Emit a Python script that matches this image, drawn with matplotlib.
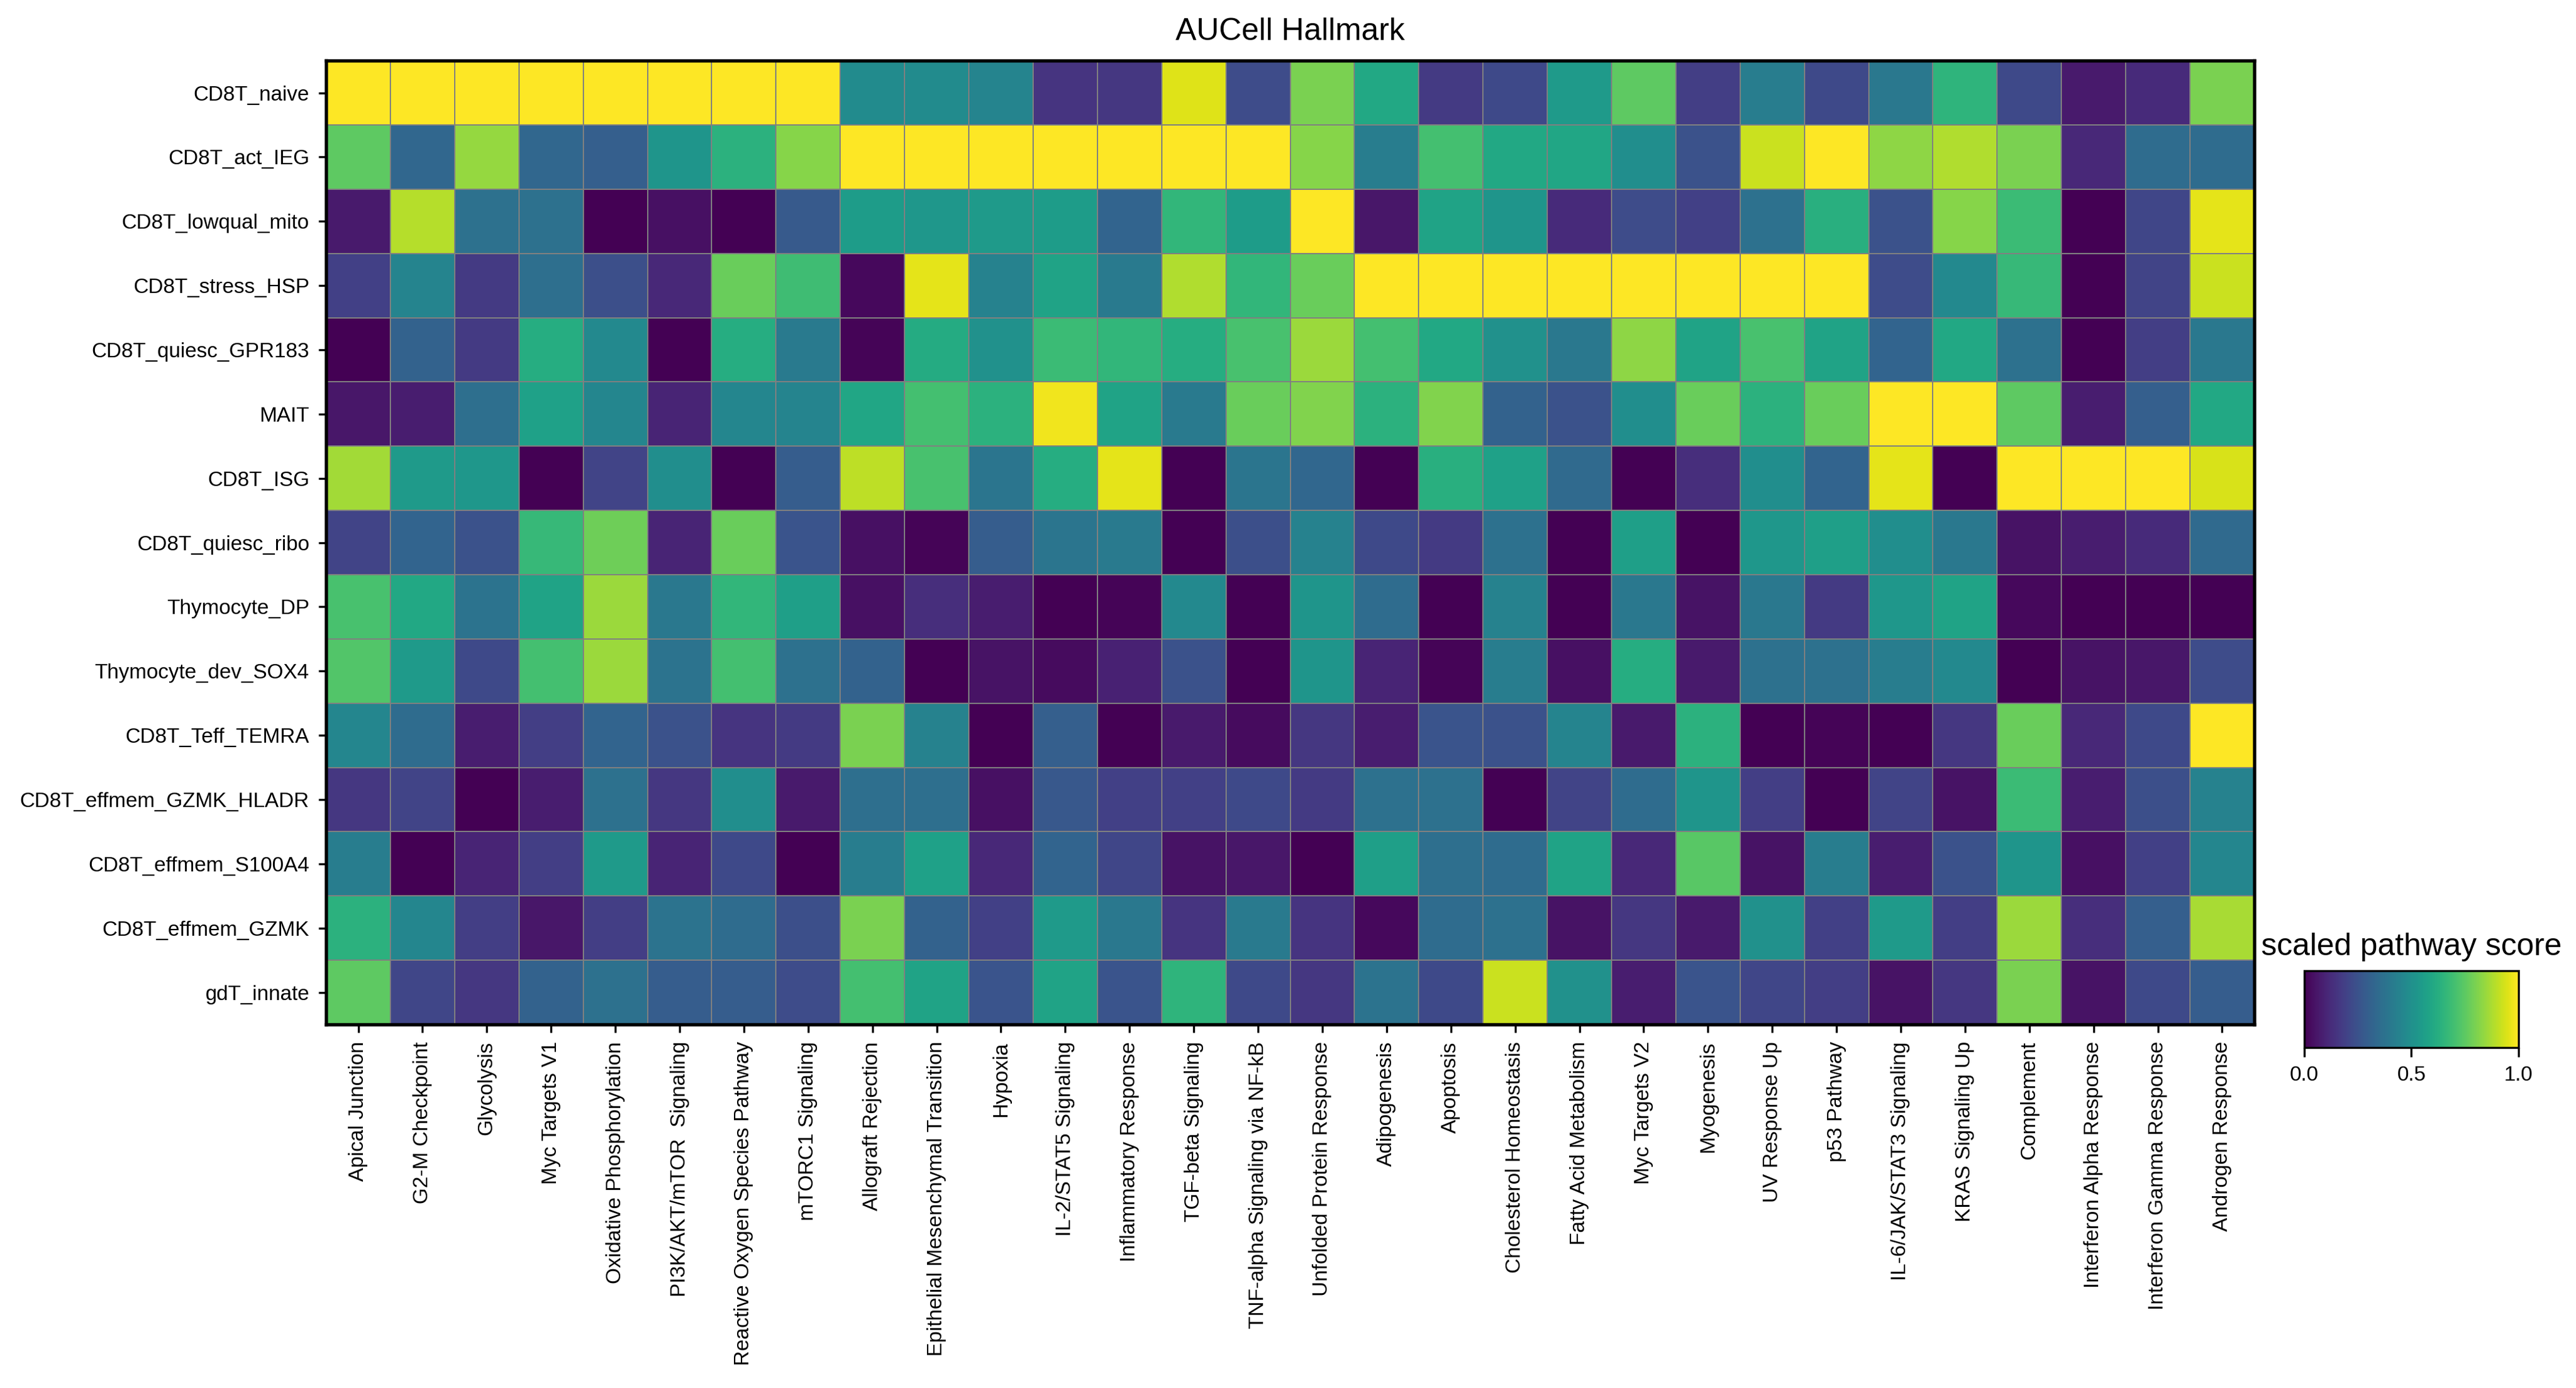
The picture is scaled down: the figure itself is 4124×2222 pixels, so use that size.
"""
AUCell Hallmark matrix plot: scaled pathway score per CD8 T cell cluster.
"""

import numpy as np
import matplotlib
matplotlib.use("Agg")
import matplotlib.pyplot as plt

plt.rcParams['font.family'] = ['Liberation Sans', 'DejaVu Sans']

# Clusters (rows, top to bottom)
cell_types = [
    'CD8T_naive', 'CD8T_act_IEG', 'CD8T_lowqual_mito', 'CD8T_stress_HSP',
    'CD8T_quiesc_GPR183', 'MAIT', 'CD8T_ISG', 'CD8T_quiesc_ribo',
    'Thymocyte_DP', 'Thymocyte_dev_SOX4', 'CD8T_Teff_TEMRA',
    'CD8T_effmem_GZMK_HLADR', 'CD8T_effmem_S100A4', 'CD8T_effmem_GZMK',
    'gdT_innate',
]

# Hallmark pathways (columns, left to right)
pathways = [
    'Apical Junction', 'G2-M Checkpoint', 'Glycolysis', 'Myc Targets V1',
    'Oxidative Phosphorylation', 'PI3K/AKT/mTOR  Signaling',
    'Reactive Oxygen Species Pathway', 'mTORC1 Signaling',
    'Allograft Rejection', 'Epithelial Mesenchymal Transition', 'Hypoxia',
    'IL-2/STAT5 Signaling', 'Inflammatory Response', 'TGF-beta Signaling',
    'TNF-alpha Signaling via NF-kB', 'Unfolded Protein Response',
    'Adipogenesis', 'Apoptosis', 'Cholesterol Homeostasis',
    'Fatty Acid Metabolism', 'Myc Targets V2', 'Myogenesis',
    'UV Response Up', 'p53 Pathway', 'IL-6/JAK/STAT3 Signaling',
    'KRAS Signaling Up', 'Complement', 'Interferon Alpha Response',
    'Interferon Gamma Response', 'Androgen Response',
]

# Scaled scores, one list per cluster
naive = [1.0, 1.0, 1.0, 1.0, 1.0, 1.0, 1.0, 1.0, 0.48, 0.48, 0.45, 0.15, 0.16, 0.95, 0.23,
         0.8, 0.6, 0.17, 0.22, 0.54, 0.75, 0.18, 0.42, 0.22, 0.4, 0.65, 0.22, 0.07, 0.12, 0.8]
act_ieg = [0.75, 0.33, 0.84, 0.33, 0.3, 0.52, 0.64, 0.82, 1.0, 1.0, 1.0, 1.0, 1.0, 1.0, 1.0,
           0.82, 0.42, 0.7, 0.6, 0.59, 0.49, 0.25, 0.92, 1.0, 0.83, 0.88, 0.8, 0.11, 0.35, 0.35]
lowqual_mito = [0.07, 0.89, 0.37, 0.37, 0.0, 0.04, 0.0, 0.28, 0.55, 0.53, 0.54, 0.55, 0.32, 0.66, 0.55,
                1.0, 0.06, 0.58, 0.52, 0.12, 0.23, 0.19, 0.37, 0.63, 0.25, 0.82, 0.68, 0.0, 0.21, 0.96]
stress_hsp = [0.19, 0.45, 0.17, 0.36, 0.24, 0.11, 0.77, 0.69, 0.02, 0.96, 0.44, 0.58, 0.41, 0.88, 0.66,
              0.77, 1.0, 1.0, 1.0, 1.0, 1.0, 1.0, 1.0, 1.0, 0.23, 0.47, 0.67, 0.0, 0.2, 0.92]
quiesc_gpr183 = [0.0, 0.31, 0.17, 0.62, 0.47, 0.0, 0.62, 0.41, 0.01, 0.61, 0.5, 0.68, 0.66, 0.62, 0.71,
                 0.85, 0.7, 0.6, 0.5, 0.4, 0.83, 0.58, 0.71, 0.58, 0.32, 0.6, 0.37, 0.0, 0.18, 0.4]
mait = [0.06, 0.08, 0.36, 0.57, 0.46, 0.1, 0.46, 0.45, 0.59, 0.7, 0.64, 0.98, 0.58, 0.41, 0.77,
        0.81, 0.64, 0.81, 0.31, 0.25, 0.49, 0.77, 0.64, 0.77, 1.0, 1.0, 0.75, 0.08, 0.3, 0.6]
isg = [0.86, 0.54, 0.53, 0.0, 0.2, 0.49, 0.0, 0.29, 0.9, 0.71, 0.39, 0.62, 0.96, 0.0, 0.39,
       0.33, 0.0, 0.63, 0.57, 0.34, 0.0, 0.13, 0.49, 0.32, 0.96, 0.0, 1.0, 1.0, 1.0, 0.94]
quiesc_ribo = [0.2, 0.32, 0.25, 0.67, 0.78, 0.1, 0.77, 0.26, 0.04, 0.01, 0.29, 0.39, 0.41, 0.0, 0.24,
               0.44, 0.22, 0.17, 0.37, 0.0, 0.56, 0.0, 0.53, 0.56, 0.49, 0.4, 0.05, 0.08, 0.12, 0.34]
thymo_dp = [0.71, 0.6, 0.38, 0.58, 0.85, 0.4, 0.66, 0.56, 0.04, 0.13, 0.08, 0.0, 0.01, 0.47, 0.0,
            0.52, 0.35, 0.0, 0.44, 0.0, 0.4, 0.05, 0.4, 0.17, 0.53, 0.58, 0.02, 0.0, 0.0, 0.0]
thymo_sox4 = [0.73, 0.54, 0.22, 0.7, 0.85, 0.38, 0.7, 0.37, 0.31, 0.0, 0.05, 0.03, 0.09, 0.25, 0.0,
              0.52, 0.1, 0.01, 0.42, 0.04, 0.62, 0.07, 0.37, 0.37, 0.42, 0.47, 0.0, 0.05, 0.06, 0.23]
teff_temra = [0.46, 0.35, 0.08, 0.18, 0.32, 0.25, 0.15, 0.17, 0.8, 0.44, 0.0, 0.3, 0.0, 0.07, 0.03,
              0.16, 0.08, 0.26, 0.25, 0.45, 0.07, 0.64, 0.0, 0.01, 0.0, 0.16, 0.77, 0.11, 0.22, 1.0]
effmem_gzmk_hladr = [0.16, 0.2, 0.0, 0.08, 0.37, 0.16, 0.49, 0.07, 0.36, 0.36, 0.04, 0.27, 0.19, 0.19, 0.22,
                     0.17, 0.37, 0.37, 0.0, 0.2, 0.35, 0.52, 0.18, 0.0, 0.2, 0.05, 0.68, 0.08, 0.24, 0.44]
effmem_s100a4 = [0.42, 0.0, 0.1, 0.18, 0.54, 0.1, 0.22, 0.0, 0.42, 0.57, 0.11, 0.32, 0.21, 0.05, 0.06,
                 0.0, 0.56, 0.36, 0.35, 0.58, 0.11, 0.74, 0.05, 0.42, 0.08, 0.25, 0.52, 0.04, 0.19, 0.46]
effmem_gzmk = [0.64, 0.46, 0.18, 0.06, 0.18, 0.38, 0.35, 0.24, 0.8, 0.31, 0.19, 0.54, 0.4, 0.15, 0.41,
               0.15, 0.02, 0.35, 0.37, 0.05, 0.16, 0.07, 0.5, 0.19, 0.54, 0.18, 0.85, 0.13, 0.3, 0.87]
gdt_innate = [0.75, 0.21, 0.16, 0.31, 0.37, 0.29, 0.29, 0.23, 0.7, 0.58, 0.26, 0.58, 0.26, 0.65, 0.22,
              0.16, 0.38, 0.22, 0.92, 0.5, 0.08, 0.26, 0.21, 0.18, 0.05, 0.16, 0.8, 0.05, 0.22, 0.29]


def main():
    scores = np.array([
        naive, act_ieg, lowqual_mito, stress_hsp, quiesc_gpr183, mait, isg,
        quiesc_ribo, thymo_dp, thymo_sox4, teff_temra, effmem_gzmk_hladr,
        effmem_s100a4, effmem_gzmk, gdt_innate,
    ])
    n_rows, n_cols = scores.shape

    fig = plt.figure(figsize=(4124 / 300, 2222 / 300), dpi=300)

    # Main heatmap
    ax = fig.add_axes([0.1266, 0.2619, 0.7485, 0.6944])
    mesh = ax.pcolormesh(scores, cmap='viridis', vmin=0, vmax=1,
                         edgecolors='gray', linewidth=0.1)
    ax.set_xlim(0, n_cols)
    ax.set_ylim(n_rows, 0)
    ax.set_xticks(np.arange(n_cols) + 0.5)
    ax.set_xticklabels(pathways, rotation=90, fontsize=8)
    ax.set_yticks(np.arange(n_rows) + 0.5)
    ax.set_yticklabels(cell_types, fontsize=8)
    ax.tick_params(length=3, width=0.8)
    ax.set_title('AUCell Hallmark', fontsize=12, pad=8)
    for spine in ax.spines.values():
        spine.set_linewidth(1.3)

    # Colorbar
    cax = fig.add_axes([0.8945, 0.2453, 0.0832, 0.0553])
    cb = fig.colorbar(mesh, cax=cax, orientation='horizontal',
                      ticks=[0, 0.5, 1.0], format='%.1f')
    cb.ax.set_title('scaled pathway score', fontsize=12)
    cb.ax.tick_params(labelsize=8)
    cb.outline.set_linewidth(0.8)

    fig.savefig('out.png', dpi=300)
    plt.close(fig)


if __name__ == "__main__":
    main()
